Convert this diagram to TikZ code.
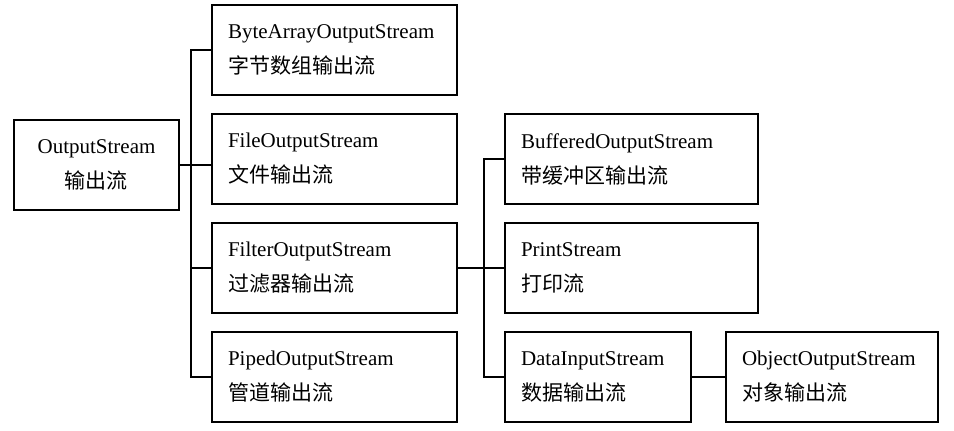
\documentclass[tikz,border=0pt]{standalone}
\usepackage{fontspec}
\setmainfont{Liberation Serif}
\newfontfamily\cjk{Noto Sans CJK SC}
\usetikzlibrary{positioning}
\newcommand{\boxfont}{\fontsize{21pt}{35pt}\selectfont}
\tikzstyle{rootbox} = [rectangle, draw=black, line width=1.6pt, minimum width=165pt, minimum height=90pt, align=center, font=\boxfont]
\tikzstyle{streambox} = [rectangle, draw=black, line width=1.6pt, minimum height=90pt, inner xsep=16pt, text width=213pt, align=left, font=\boxfont]
\tikzstyle{link} = [line width=1.6pt]
\begin{document}
\begin{tikzpicture}[x=1pt, y=-1pt, node distance=109pt]
			\useasboundingbox (0,0) rectangle (954,431);
			\node[rootbox] (out) at (96.5,165) {OutputStream\\ \cjk 输出流};
			\node[streambox] (bytearr) at (334.5,50) {ByteArrayOutputStream\\ \cjk 字节数组输出流};
			\node[streambox, below of=bytearr] (file) {FileOutputStream\\ \cjk 文件输出流};
			\node[streambox, below of=file] (filter) {FilterOutputStream\\ \cjk 过滤器输出流};
			\node[streambox, below of=filter] (piped) {PipedOutputStream\\ \cjk 管道输出流};
			\node[streambox, text width=221pt] (buffered) at (631.5,159) {BufferedOutputStream\\ \cjk 带缓冲区输出流};
			\node[streambox, text width=221pt, below of=buffered] (print) {PrintStream\\ \cjk 打印流};
			\node[streambox, text width=154pt, below of=print, xshift=-33.5pt] (data) {DataInputStream\\ \cjk 数据输出流};
			\node[streambox, text width=180pt, right of=data, xshift=125pt] (object) {ObjectOutputStream\\ \cjk 对象输出流};
			
			\coordinate (jointA) at (191,165);
			\coordinate (jointB) at (484,268);
			
			\draw [link] (out.east) -- (out.east -| file.west);
			\draw [link] (bytearr.west) -| (jointA) |- (piped.west);
			\draw [link] (filter.west) -- (filter.west -| jointA);
			\draw [link] (filter.east) -- (print.west);
			\draw [link] (buffered.west) -| (jointB) |- (data.west);
			\draw [link] (data) -- (object);
			
		\end{tikzpicture}
\end{document}
